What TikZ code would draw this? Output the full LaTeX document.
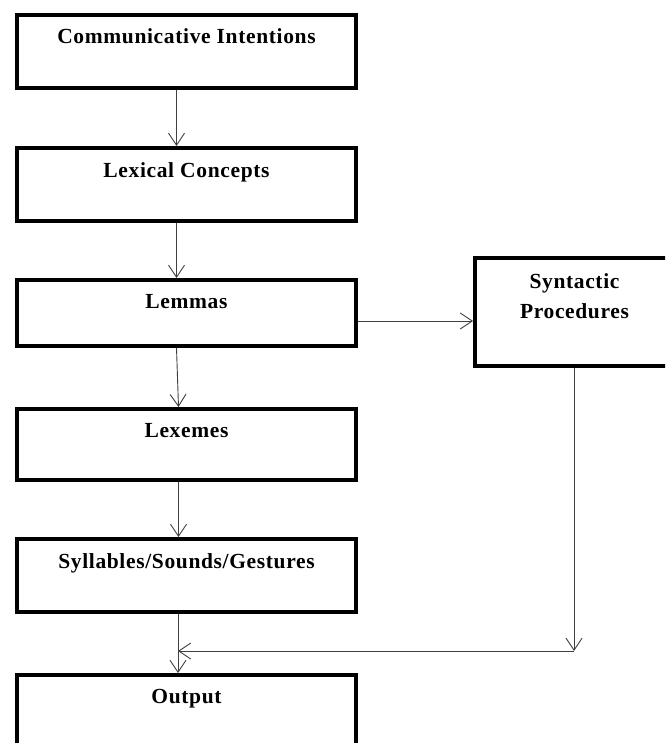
\documentclass[tikz,border=0pt]{standalone}
\usepackage{fontspec}
\setmainfont{Liberation Serif}
\usetikzlibrary{arrows.meta}
\begin{document}
\begin{tikzpicture}[x=1pt,y=-1pt,
  box/.style={draw=black, line width=4pt, rectangle, inner sep=0pt, fill=white},
  lbl/.style={anchor=base, inner sep=0pt, font=\fontsize{21.5}{30}\selectfont\bfseries\addfontfeature{LetterSpace=3}},
  arr/.style={draw=black!75, line width=0.9pt, -{Straight Barb[length=12pt,width=16pt,line width=0.9pt]}},
  ln/.style={draw=black!75, line width=0.9pt}]
\useasboundingbox (0,0) rectangle (665,743);
\clip (0,0) rectangle (665,743);
% boxes (centre lines)
\node[box, minimum width=339pt, minimum height=73pt] (b1) at (186.5,51.5) {};
\node[box, minimum width=339pt, minimum height=73pt] (b2) at (186.5,184.5) {};
\node[box, minimum width=339pt, minimum height=66pt] (b3) at (186.5,313) {};
\node[box, minimum width=339pt, minimum height=71pt] (b4) at (186.5,444.5) {};
\node[box, minimum width=339pt, minimum height=73pt] (b5) at (186.5,575.5) {};
\node[box, minimum width=339pt, minimum height=90pt] (b6) at (186.5,720) {};
\node[box, minimum width=199pt, minimum height=108pt] (s) at (574.5,312) {};
% labels
\node[lbl] (t1) at ([yshift=-31pt]b1.north) {Communicative Intentions};
\node[lbl] (t2) at ([yshift=-32pt]b2.north) {Lexical Concepts};
\node[lbl] (t3) at ([yshift=-30pt]b3.north) {Lemmas};
\node[lbl] (t4) at ([yshift=-30pt]b4.north) {Lexemes};
\node[lbl] (t5) at ([yshift=-31pt]b5.north) {Syllables/Sounds/Gestures};
\node[lbl] (t6) at ([yshift=-30pt]b6.north) {Output};
\node[lbl] (ts1) at ([yshift=-32pt]s.north) {Syntactic};
\node[lbl] (ts2) at ([yshift=-62pt]s.north) {Procedures};
% connectors
\coordinate (j) at (574,651);
\coordinate (m) at ([xshift=-8.5pt]b5.south);
\draw[arr] ([xshift=-10pt]b1.south) -- ([xshift=-10pt]b2.north);
\draw[arr] ([xshift=-10pt]b2.south) -- ([xshift=-10pt]b3.north);
\draw[arr] ([xshift=-10pt]b3.south) -- ([xshift=-8pt]b4.north);
\draw[arr] ([xshift=-8pt]b4.south) -- ([xshift=-8pt]b5.north);
\draw[arr] (b3.east |- 0,321) -- (s.west |- 0,321);
\draw[arr] (s.south -| j) -- (j);
\draw[arr] (j) -- (j -| m);
\draw[arr] (m) -- (m |- b6.north);
\end{tikzpicture}
\end{document}
